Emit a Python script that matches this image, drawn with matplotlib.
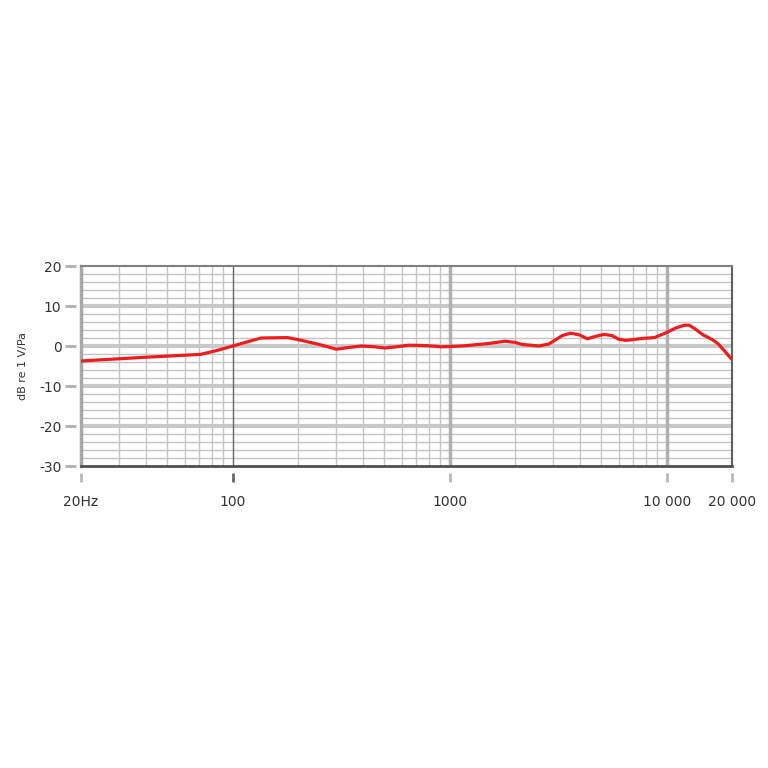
import numpy as np
import matplotlib
matplotlib.use('Agg')
from matplotlib import pyplot as plt
from matplotlib import transforms

# 周波数特性 (値は図から読み取り)
freq_hz = [20, 40, 71, 85, 100, 118, 135, 179, 200, 250, 300, 340, 392, 450, 502,
           570, 644, 780, 918, 1137, 1500, 1803, 2000, 2155, 2575, 2863,
           3300, 3606, 3950, 4308, 4700, 5143, 5600, 6000, 6483, 7745, 8772,
           9929, 11000, 12080, 12700, 13500, 14690, 16330, 17300, 18170, 20000]
level_db = [-3.75, -2.8, -2.1, -1.1, 0.0, 1.1, 2.0, 2.1, 1.6, 0.4, -0.8, -0.4, 0.0, -0.2, -0.5,
            -0.2, 0.2, 0.1, -0.2, 0.0, 0.6, 1.2, 0.9, 0.4, 0.0, 0.5,
            2.6, 3.2, 2.8, 1.8, 2.4, 2.9, 2.6, 1.7, 1.4, 1.9, 2.1,
            3.3, 4.5, 5.2, 5.2, 4.3, 2.8, 1.5, 0.5, -0.8, -3.4]

x_ticks = [20, 100, 1000, 10000, 20000]
x_ticklabels = ['20Hz', '100', '1000', '10 000', '20 000']
y_ticks = [20, 10, 0, -10, -20, -30]
y_ticklabels = ['20', '10', '0', '-10', '-20', '-30']

fig = plt.figure(figsize=(7.68, 7.68), dpi=100)
ax = fig.add_axes([81 / 768, 1 - 466 / 768, (732 - 81) / 768, 200 / 768])
ax.set_xscale('log')
ax.set_xlim(20, 20000)
ax.set_ylim(-30, 20)

# グリッド
minor_x = [f for d in (10, 100, 1000, 10000) for f in range(2 * d, 10 * d, d)
           if 20 <= f <= 20000 and f not in (100, 1000, 10000)]
for f in minor_x:
    ax.axvline(f, color='#c4c4c4', lw=1.0, zorder=1)
ax.axvline(100, color='#666666', lw=1.0, zorder=2)
for f in (1000, 10000):
    ax.axvline(f, color='#b0b0b0', lw=2.5, zorder=2)
for y in range(-28, 20, 2):
    if y % 10 == 0:
        ax.axhline(y, color='#c8c8c8', lw=3.0, zorder=1)
    else:
        ax.axhline(y, color='#c4c4c4', lw=1.0, zorder=1)

ax.plot(freq_hz, level_db, color='#ee1c1c', lw=2.3, zorder=5,
        solid_capstyle='round', solid_joinstyle='round')

# 枠
ax.spines['left'].set_color('#a8a8a8')
ax.spines['left'].set_linewidth(2.5)
ax.spines['top'].set_color('#808080')
ax.spines['top'].set_linewidth(1.5)
ax.spines['right'].set_color('#606060')
ax.spines['right'].set_linewidth(1.5)
ax.spines['bottom'].set_color('#505050')
ax.spines['bottom'].set_linewidth(2.0)

ax.set_xticks(x_ticks)
ax.set_xticklabels(x_ticklabels)
ax.xaxis.set_minor_locator(matplotlib.ticker.NullLocator())
ax.set_yticks(y_ticks)
ax.set_yticklabels(y_ticklabels)
ax.tick_params(length=0, labelsize=10, colors='#333333')
ax.tick_params(axis='x', pad=21)
ax.tick_params(axis='y', pad=14)

# 外側の目盛り (軸から離れた灰色の短線)
ty = transforms.blended_transform_factory(ax.transAxes, ax.transData)
for y in y_ticks:
    ax.plot([-0.025, -0.007], [y, y], transform=ty, color='#b0b0b0', lw=2.0,
            clip_on=False, solid_capstyle='butt')
tx = transforms.blended_transform_factory(ax.transData, ax.transAxes)
for f in x_ticks:
    ax.plot([f, f], [-0.035, -0.08], transform=tx,
            color='#666666' if f == 100 else '#b8b8b8', lw=2.0,
            clip_on=False, solid_capstyle='butt')

ax.set_ylabel('dB re 1 V/Pa', fontsize=8, color='#333333', labelpad=8)

fig.savefig('out.png', dpi=100)
